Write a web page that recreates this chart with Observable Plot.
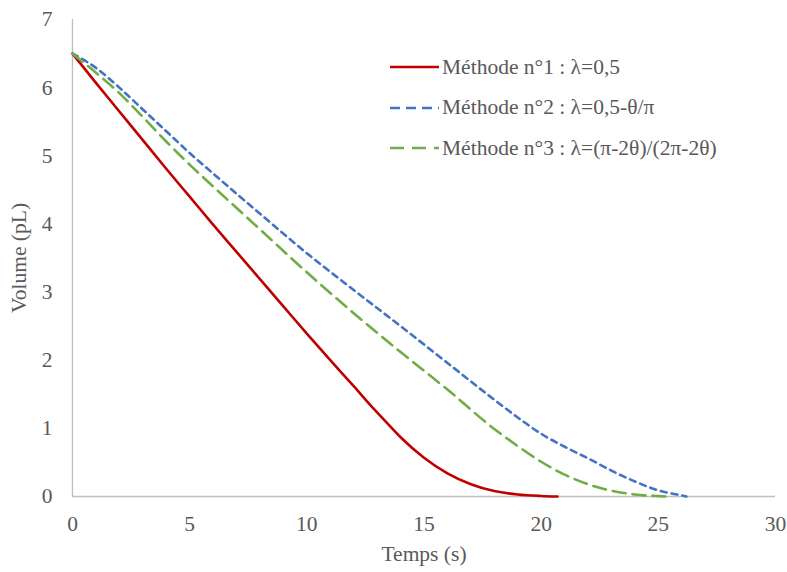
<!DOCTYPE html>
<html>
<head>
<meta charset="utf-8">
<script src="https://cdn.jsdelivr.net/npm/d3@7"></script>
<script src="https://cdn.jsdelivr.net/npm/@observablehq/plot@0.6"></script>
<style>
  html, body { margin: 0; padding: 0; background: #fff; }
  #wrap { position: relative; width: 787px; height: 572px; font-family: "Liberation Serif", "DejaVu Serif", serif; }
  #legend { position: absolute; left: 390px; top: 47px; color: #595959; font-size: 21.5px; font-family: "Liberation Serif", "DejaVu Serif", serif; }
  #legend .row { display: flex; align-items: center; height: 40.5px; white-space: nowrap; }
  #legend svg { margin-right: 3px; }
</style>
</head>
<body>
<div id="wrap"></div>
<script>
// Method 1 (red, solid)
const t1 = [0, 1, 2, 3, 4, 5, 6, 7, 8, 9, 10, 11, 12, 12.9, 13.5, 14, 15, 16, 17, 18, 19, 20, 20.7];
const v1 = [6.5, 6.07, 5.65, 5.23, 4.81, 4.40, 3.99, 3.59, 3.19, 2.79, 2.39, 2.00, 1.62, 1.27, 1.05, 0.87, 0.57, 0.34, 0.18, 0.08, 0.03, 0.008, 0];
// Method 2 (blue, short dash)
const t2 = [0, 1, 2, 3, 4, 5, 6, 8, 10, 12, 14, 16, 18, 19, 20, 21, 22, 23, 24, 25, 26, 26.2];
const v2 = [6.5, 6.29, 6.0, 5.68, 5.36, 5.04, 4.74, 4.15, 3.57, 3.03, 2.50, 1.96, 1.42, 1.16, 0.92, 0.73, 0.56, 0.38, 0.22, 0.09, 0.015, 0];
// Method 3 (green, long dash)
const t3 = [0, 1, 2, 3, 4, 5, 6, 8, 10, 12, 14, 16, 18, 19, 20, 21, 22, 23, 24, 25, 25.3];
const v3 = [6.5, 6.22, 5.92, 5.57, 5.21, 4.87, 4.55, 3.92, 3.29, 2.69, 2.12, 1.57, 0.99, 0.74, 0.51, 0.32, 0.18, 0.085, 0.03, 0.005, 0];

const xTicks = [0, 5, 10, 15, 20, 25, 30];
const yTicks = [0, 1, 2, 3, 4, 5, 6, 7];
const labels = ["Méthode n°1 : λ=0,5", "Méthode n°2 : λ=0,5-θ/π", "Méthode n°3 : λ=(π-2θ)/(2π-2θ)"];
const colors = ["#C00000", "#4472C4", "#70AD47"];
const dashes = ["none", "6 5", "13 7"];

const series = [[t1, v1], [t2, v2], [t3, v3]].map(([t, v]) => t.map((x, i) => ({t: x, v: v[i]})));

const textColor = "#595959";
const axisColor = "#BFBFBF";

const chart = Plot.plot({
  width: 787,
  height: 572,
  marginLeft: 72,
  marginRight: 12,
  marginTop: 19,
  marginBottom: 76,
  style: { fontFamily: "'Liberation Serif', 'DejaVu Serif', serif", fontSize: "21.5px", color: textColor, background: "#fff" },
  x: { domain: [0, 30] },
  y: { domain: [0, 7] },
  marks: [
    Plot.ruleX([0], { stroke: axisColor, strokeWidth: 1.3 }),
    Plot.ruleY([0], { stroke: axisColor, strokeWidth: 1.3 }),
    Plot.axisX({ ticks: xTicks, tickFormat: d3.format("d"), tickSize: 0, tickPadding: 19, label: "Temps (s)", labelAnchor: "center", labelArrow: "none", labelOffset: 64 }),
    Plot.axisY({ ticks: yTicks, tickFormat: d3.format("d"), tickSize: 0, tickPadding: 20, label: "Volume (pL)", labelAnchor: "center", labelArrow: "none", labelOffset: 62 }),
    ...series.map((d, i) => Plot.line(d, {
      x: "t", y: "v", stroke: colors[i], strokeWidth: 2.6,
      strokeDasharray: dashes[i] === "none" ? undefined : dashes[i],
      curve: "monotone-x"
    }))
  ]
});

const wrap = document.getElementById("wrap");
wrap.appendChild(chart);

const legend = document.createElement("div");
legend.id = "legend";
labels.forEach((lab, i) => {
  const row = document.createElement("div");
  row.className = "row";
  const ns = "http://www.w3.org/2000/svg";
  const s = document.createElementNS(ns, "svg");
  s.setAttribute("width", 49);
  s.setAttribute("height", 6);
  const ln = document.createElementNS(ns, "line");
  ln.setAttribute("x1", 0); ln.setAttribute("x2", 49);
  ln.setAttribute("y1", 3); ln.setAttribute("y2", 3);
  ln.setAttribute("stroke", colors[i]);
  ln.setAttribute("stroke-width", 2.6);
  if (dashes[i] !== "none") ln.setAttribute("stroke-dasharray", i === 1 ? "10 6" : "14 8");
  s.appendChild(ln);
  row.appendChild(s);
  const sp = document.createElement("span");
  sp.textContent = lab;
  row.appendChild(sp);
  legend.appendChild(row);
});
wrap.appendChild(legend);
</script>
</body>
</html>
